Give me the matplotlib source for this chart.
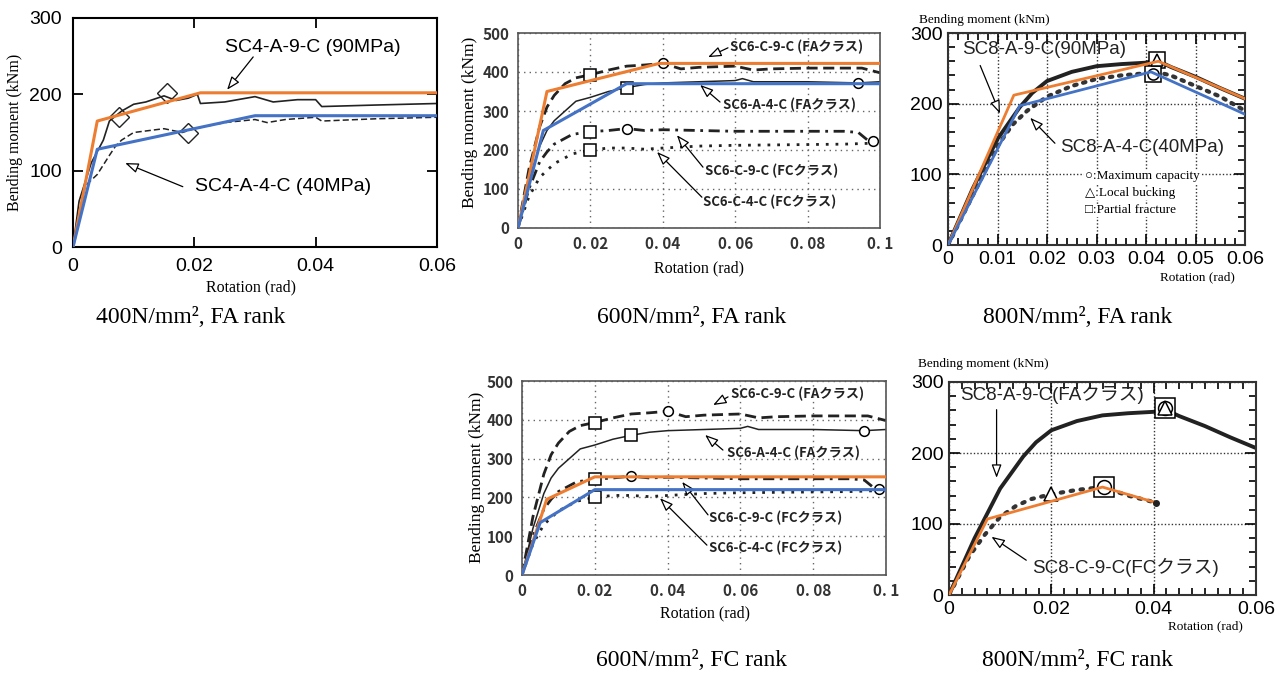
import matplotlib
matplotlib.use('Agg')
import matplotlib.pyplot as plt
from matplotlib.ticker import MultipleLocator

plt.rcParams['font.family'] = ['Liberation Sans', 'Noto Sans CJK JP', 'DejaVu Sans']

ORANGE = '#ED7D31'
BLUE = '#4472C4'

# ---------------- 400 N/mm2, FA rank ----------------
sc4_a9_x = [0, 0.001, 0.003, 0.005, 0.006, 0.008, 0.010, 0.012, 0.015, 0.017, 0.019, 0.0205,
            0.021, 0.025, 0.030, 0.033, 0.037, 0.040, 0.041, 0.050, 0.060]
sc4_a9_y = [0, 60, 110, 140, 165, 178, 187, 190, 198, 192, 195, 200,
            188, 190, 197, 190, 193, 193, 184, 186, 188]
sc4_a4_x = [0, 0.002, 0.004, 0.006, 0.007, 0.008, 0.010, 0.015, 0.018, 0.020, 0.025,
            0.030, 0.032, 0.035, 0.040, 0.041, 0.050, 0.060]
sc4_a4_y = [0, 80, 95, 120, 132, 140, 150, 155, 150, 155, 163,
            167, 163, 167, 170, 165, 168, 170]
sc4_diamond_x = [0.0075, 0.0155, 0.019]
sc4_diamond_y = [170, 202, 150]
sc4_orange_x = [0, 0.004, 0.021, 0.06]
sc4_orange_y = [0, 165, 202, 202]
sc4_blue_x = [0, 0.004, 0.030, 0.06]
sc4_blue_y = [0, 128, 172, 172]

# ---------------- 600 N/mm2 test curves ----------------
sc6_c9fa_x = [0, 0.003, 0.006, 0.008, 0.010, 0.013, 0.016, 0.020, 0.025, 0.030, 0.035, 0.040,
              0.045, 0.050, 0.060, 0.065, 0.070, 0.080, 0.090, 0.095, 0.100]
sc6_c9fa_y = [0, 150, 260, 310, 340, 370, 385, 393, 405, 415, 418, 422,
              408, 412, 415, 405, 408, 410, 410, 410, 398]
sc6_a4fa_x = [0, 0.003, 0.006, 0.008, 0.010, 0.013, 0.016, 0.020, 0.025, 0.030, 0.035, 0.040,
              0.050, 0.060, 0.062, 0.065, 0.080, 0.094, 0.100]
sc6_a4fa_y = [0, 120, 210, 250, 275, 300, 325, 335, 350, 360, 368, 372,
              375, 378, 383, 375, 375, 372, 375]
sc6_c9fc_x = [0, 0.003, 0.006, 0.008, 0.010, 0.015, 0.020, 0.025, 0.030, 0.035, 0.040,
              0.050, 0.060, 0.070, 0.080, 0.090, 0.094, 0.097, 0.100]
sc6_c9fc_y = [0, 100, 170, 195, 215, 240, 247, 250, 255, 250, 252,
              250, 248, 248, 248, 248, 245, 222, 220]
sc6_c4fc_x = [0, 0.003, 0.006, 0.010, 0.015, 0.020, 0.025, 0.030, 0.035, 0.040,
              0.050, 0.060, 0.070, 0.080, 0.090, 0.100]
sc6_c4fc_y = [0, 80, 130, 165, 190, 200, 205, 205, 202, 205,
              210, 212, 213, 214, 215, 218]
sc6_square_x = [0.020, 0.030, 0.020, 0.020]
sc6_square_y = [393, 360, 247, 200]
sc6_circle_x = [0.040, 0.094, 0.030, 0.098]
sc6_circle_y = [423, 372, 255, 222]

sc6fa_orange_x = [0, 0.008, 0.039, 0.1]
sc6fa_orange_y = [0, 350, 422, 422]
sc6fa_blue_x = [0, 0.007, 0.030, 0.1]
sc6fa_blue_y = [0, 250, 370, 370]
sc6fc_orange_x = [0, 0.0068, 0.020, 0.1]
sc6fc_orange_y = [0, 195, 253, 253]
sc6fc_blue_x = [0, 0.005, 0.020, 0.1]
sc6fc_blue_y = [0, 135, 220, 220]

# ---------------- 800 N/mm2 test curves ----------------
sc8_a9_x = [0, 0.005, 0.010, 0.0145, 0.017, 0.020, 0.025, 0.030, 0.035, 0.040, 0.042,
            0.045, 0.050, 0.055, 0.060]
sc8_a9_y = [0, 80, 150, 195, 215, 232, 245, 253, 256, 258, 262,
            252, 238, 222, 207]
sc8_a4_x = [0, 0.005, 0.010, 0.013, 0.016, 0.020, 0.025, 0.030, 0.035, 0.040, 0.042,
            0.045, 0.050, 0.055, 0.060]
sc8_a4_y = [0, 70, 140, 170, 190, 210, 225, 235, 240, 243, 245,
            240, 225, 210, 190]
sc8_c9_x = [0, 0.004, 0.007, 0.010, 0.013, 0.016, 0.020, 0.025, 0.030, 0.035, 0.0405]
sc8_c9_y = [0, 55, 85, 110, 125, 135, 142, 148, 152, 140, 130]

sc8fa_orange_x = [0, 0.0133, 0.0425, 0.06]
sc8fa_orange_y = [0, 212, 260, 207]
sc8fa_blue_x = [0, 0.0145, 0.041, 0.06]
sc8fa_blue_y = [0, 197, 245, 185]
sc8fc_orange_x = [0, 0.0075, 0.030, 0.0405]
sc8fc_orange_y = [0, 107, 152, 130]

W, H = 1282, 675
fig = plt.figure(figsize=(W / 100, H / 100), dpi=100)


def px_axes(left, top, right, bottom):
    return fig.add_axes([left / W, 1 - bottom / H, (right - left) / W, (bottom - top) / H])


def arrow(ax, tail, head):
    ax.annotate('', xy=head, xytext=tail,
                arrowprops=dict(arrowstyle='-|>,head_length=0.8,head_width=0.3',
                                fc='white', ec='black', lw=0.9, shrinkA=0, shrinkB=0))


def hollow(ax, x, y, marker, ms):
    ax.plot(x, y, ls='none', marker=marker, ms=ms, mfc='white', mec='black', mew=1.1, zorder=4)


serif = ['Liberation Serif', 'DejaVu Serif']
jp = ['Noto Sans CJK JP', 'DejaVu Sans']

# ---------------- panel 1 ----------------
ax1 = px_axes(73, 18, 437, 247)
ax1.plot(sc4_a9_x, sc4_a9_y, color='#222', lw=1.2)
ax1.plot(sc4_a4_x, sc4_a4_y, color='#222', lw=1.1, ls=(0, (4, 2)))
ax1.plot(sc4_diamond_x, sc4_diamond_y, ls='none', marker='D', ms=10, mfc='none', mec='#222', mew=1.0)
ax1.plot(sc4_orange_x, sc4_orange_y, color=ORANGE, lw=2.2, zorder=5)
ax1.plot(sc4_blue_x, sc4_blue_y, color=BLUE, lw=2.2, zorder=5)
ax1.set_xlim(0, 0.06)
ax1.set_ylim(0, 300)
ax1.set_xticks([0, 0.02, 0.04, 0.06], ['0', '0.02', '0.04', '0.06'])
ax1.set_yticks([0, 100, 200, 300])
ax1.tick_params(direction='in', length=7, width=1.3, labelsize=14, pad=8,
                top=True, right=True)
for s in ax1.spines.values():
    s.set_linewidth(1.5)
ax1.text(0.0251, 261, 'SC4-A-9-C (90MPa)', fontsize=14, va='center')
arrow(ax1, (0.0297, 249), (0.0254, 206))
ax1.text(0.0201, 79, 'SC4-A-4-C (40MPa)', fontsize=14, va='center')
arrow(ax1, (0.0181, 79), (0.0086, 110))
ax1.set_ylabel('Bending moment (kNm)', family=serif, fontsize=11.5, va='center')
ax1.yaxis.set_label_coords(-0.159, 0.5)
ax1.set_xlabel('Rotation (rad)', family=serif, fontsize=11.5, va='center')
ax1.xaxis.set_label_coords(0.49, -0.175)


# ---------------- panels 2 and 4 ----------------
def sc6_panel(ax, orange_x, orange_y, blue_x, blue_y, notes, ylab_pos, xlab_pos):
    ax.plot(sc6_c9fa_x, sc6_c9fa_y, color='#222', lw=2.0, ls=(0, (4, 2)))
    ax.plot(sc6_a4fa_x, sc6_a4fa_y, color='#222', lw=1.1)
    ax.plot(sc6_c9fc_x, sc6_c9fc_y, color='#222', lw=2.0, ls=(0, (4, 2, 1, 2)))
    ax.plot(sc6_c4fc_x, sc6_c4fc_y, color='#222', lw=2.0, ls=(0, (1, 2.5)))
    hollow(ax, sc6_square_x, sc6_square_y, 's', 8)
    hollow(ax, sc6_circle_x, sc6_circle_y, 'o', 7)
    ax.plot(orange_x, orange_y, color=ORANGE, lw=2.2, zorder=5)
    ax.plot(blue_x, blue_y, color=BLUE, lw=2.2, zorder=5)
    ax.set_xlim(0, 0.1)
    ax.set_ylim(0, 500)
    ax.set_xticks([0, 0.02, 0.04, 0.06, 0.08, 0.1],
                  ['0', '0. 02', '0. 04', '0. 06', '0. 08', '0. 1'])
    ax.set_yticks([0, 100, 200, 300, 400, 500])
    ax.tick_params(length=0, pad=6)
    for lab in ax.get_xticklabels() + ax.get_yticklabels():
        lab.set_family(jp)
        lab.set_fontsize(11)
        lab.set_fontweight('bold')
        lab.set_color('#333')
    ax.grid(True, ls=(0, (1, 3)), color='#666', lw=1.0)
    for s in ax.spines.values():
        s.set_color('#555')
        s.set_linewidth(1.2)
    for text, pos, tail, head in notes:
        ax.text(pos[0], pos[1], text, family=jp, fontsize=9.5, fontweight='bold',
                color='#222', va='center')
        arrow(ax, tail, head)
    ax.set_ylabel('Bending moment (kNm)', family=serif, fontsize=12.5, va='center')
    ax.yaxis.set_label_coords(*ylab_pos)
    ax.set_xlabel('Rotation (rad)', family=serif, fontsize=11.5, va='center')
    ax.xaxis.set_label_coords(*xlab_pos)


ax2 = px_axes(518, 33, 880, 228)
sc6_panel(ax2, sc6fa_orange_x, sc6fa_orange_y, sc6fa_blue_x, sc6fa_blue_y,
          [('SC6-C-9-C (FAクラス)', (0.0585, 464), (0.058, 462), (0.0525, 438)),
           ('SC6-A-4-C (FAクラス)', (0.0566, 315), (0.0558, 323), (0.0503, 367)),
           ('SC6-C-9-C (FCクラス)', (0.0517, 146), (0.0511, 156), (0.0439, 238)),
           ('SC6-C-4-C (FCクラス)', (0.0511, 67), (0.0508, 79), (0.0384, 195))],
          (-0.133, 0.54), (0.5, -0.205))

ax4 = px_axes(522, 381, 886, 575)
sc6_panel(ax4, sc6fc_orange_x, sc6fc_orange_y, sc6fc_blue_x, sc6fc_blue_y,
          [('SC6-C-9-C (FAクラス)', (0.0575, 466), (0.0566, 459), (0.0525, 438)),
           ('SC6-A-4-C (FAクラス)', (0.0563, 314), (0.0552, 322), (0.0503, 361)),
           ('SC6-C-9-C (FCクラス)', (0.0515, 147), (0.0511, 155), (0.044, 240)),
           ('SC6-C-4-C (FCクラス)', (0.0515, 70), (0.0508, 77), (0.0379, 198))],
          (-0.124, 0.505), (0.503, -0.196))


# ---------------- panels 3 and 5 ----------------
def sc8_axes(ax, xmajor, xminor, ylab_pos, xlab_pos):
    ax.set_xlim(0, 0.06)
    ax.set_ylim(0, 300)
    ax.xaxis.set_major_locator(MultipleLocator(xmajor))
    ax.xaxis.set_minor_locator(MultipleLocator(xminor))
    ax.yaxis.set_major_locator(MultipleLocator(100))
    ax.yaxis.set_minor_locator(MultipleLocator(20))
    ax.xaxis.set_major_formatter(lambda v, p: '0' if abs(v) < 1e-9 else f'{v:.2f}')
    ax.tick_params(which='both', direction='in', top=True, right=True, width=1.2)
    ax.tick_params(which='major', length=8, labelsize=14, pad=4)
    ax.tick_params(which='minor', length=5)
    ax.grid(True, which='major', ls=(0, (1, 1.5)), color='#333', lw=1.0)
    for s in ax.spines.values():
        s.set_linewidth(1.5)
        s.set_color('#333')
    ax.set_ylabel('Bending moment (kNm)', family=serif, fontsize=9.5, rotation=0,
                  ha='center', va='center')
    ax.yaxis.set_label_coords(*ylab_pos)
    ax.set_xlabel('Rotation (rad)', family=serif, fontsize=9.5, va='center')
    ax.xaxis.set_label_coords(*xlab_pos)


ax3 = px_axes(948, 33, 1245, 245)
ax3.plot(sc8_a9_x, sc8_a9_y, color='#222', lw=2.8)
ax3.plot(sc8_a4_x, sc8_a4_y, color='#333', lw=3.0, ls=(0, (0.6, 1.6)), dash_capstyle='round')
hollow(ax3, [0.0422, 0.0415], [262, 242], 's', 12)
hollow(ax3, [0.0422], [262], '^', 8)
hollow(ax3, [0.0415], [242], 'o', 8)
ax3.plot(sc8fa_orange_x, sc8fa_orange_y, color=ORANGE, lw=2.0, zorder=5)
ax3.plot(sc8fa_blue_x, sc8fa_blue_y, color=BLUE, lw=2.0, zorder=5)
sc8_axes(ax3, 0.01, 0.002, (0.123, 1.061), (0.84, -0.151))
ax3.text(0.0028, 277, 'SC8-A-9-C(90MPa)', fontsize=13.5, va='center', color='#222')
arrow(ax3, (0.0065, 254), (0.0105, 186))
ax3.text(0.0226, 138, 'SC8-A-4-C(40MPa)', fontsize=13.5, va='center', color='#222')
arrow(ax3, (0.0216, 144), (0.0166, 180))
for y, txt in [(97, '○:Maximum capacity'), (73, '△:Local bucking'), (49, '□:Partial fracture')]:
    ax3.text(0.0277, y, txt, family=serif, fontsize=9.5, va='center',
             bbox=dict(fc='white', ec='none', pad=0.5))

ax5 = px_axes(949, 382, 1256, 595)
ax5.plot(sc8_a9_x, sc8_a9_y, color='#222', lw=2.8)
ax5.plot(sc8_c9_x, sc8_c9_y, color='#333', lw=3.0, ls=(0, (0.6, 1.8)), dash_capstyle='round')
hollow(ax5, [0.0302, 0.0422], [152, 263], 's', 14)
hollow(ax5, [0.0302, 0.0422], [152, 263], 'o', 10)
hollow(ax5, [0.020, 0.0422], [142, 263], '^', 10)
ax5.plot(sc8fc_orange_x, sc8fc_orange_y, color=ORANGE, lw=2.0, zorder=5)
ax5.plot(sc8fc_orange_x[-1:], sc8fc_orange_y[-1:], ls='none', marker='o', ms=4,
         color='#222', zorder=6)
sc8_axes(ax5, 0.02, 0.0025, (0.112, 1.085), (0.834, -0.146))
ax5.text(0.0021, 282, 'SC8-A-9-C(FAクラス)', fontsize=13.5, va='center', color='#222')
arrow(ax5, (0.0093, 261), (0.0093, 165))
ax5.text(0.0163, 39, 'SC8-C-9-C(FCクラス)', fontsize=13.5, va='center', color='#222')
arrow(ax5, (0.0151, 49), (0.0083, 82))

# ---------------- captions ----------------
captions = ['400N/mm², FA rank', '600N/mm², FA rank', '800N/mm², FA rank',
            '600N/mm², FC rank', '800N/mm², FC rank']
caption_px = [(191, 318), (692, 318), (1078, 318), (692, 660), (1078, 660)]
for txt, (cx, cy) in zip(captions, caption_px):
    fig.text(cx / W, 1 - cy / H, txt, family=serif, fontsize=17, ha='center', va='center')

fig.savefig('out.png', dpi=100)
